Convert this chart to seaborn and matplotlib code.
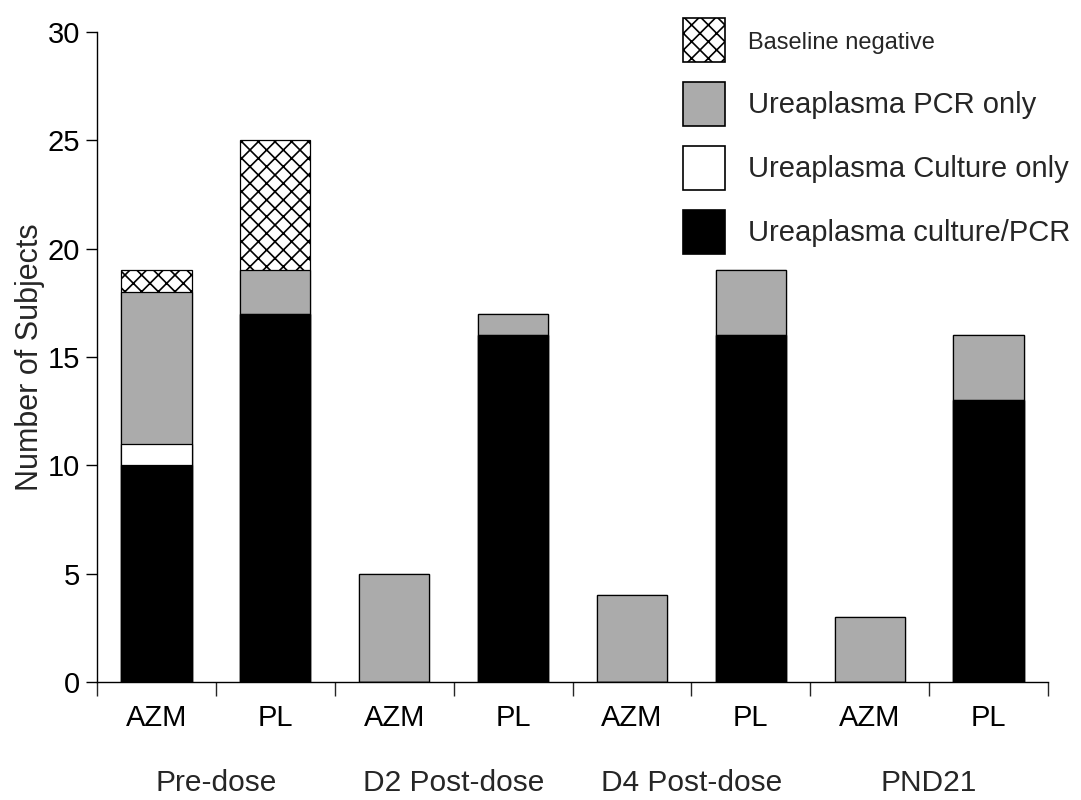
import matplotlib
matplotlib.use("Agg")
import matplotlib.pyplot as plt
from matplotlib.patches import Patch
from matplotlib.ticker import FixedLocator
import seaborn as sns
import pandas as pd
import numpy as np

groups = ["Pre-dose", "D2 Post-dose", "D4 Post-dose", "PND21"]
arms = ["AZM", "PL"]
culture_pcr = [10, 17, 0, 16, 0, 16, 0, 13]
culture_only = [1, 0, 0, 0, 0, 0, 0, 0]
pcr_only = [7, 2, 5, 1, 4, 3, 3, 3]
baseline_neg = [1, 6, 0, 0, 0, 0, 0, 0]
series_names = ["Baseline negative", "Ureaplasma PCR only",
                "Ureaplasma Culture only", "Ureaplasma culture/PCR"]

sns.set_style("ticks")
plt.rcParams["font.family"] = ["Liberation Sans", "DejaVu Sans"]
plt.rcParams["hatch.linewidth"] = 1.2

keys = [f"{g} {a}" for g in groups for a in arms]
df = pd.DataFrame({
    "key": keys,
    "culture_pcr": culture_pcr,
    "culture_only": culture_only,
    "pcr_only": pcr_only,
    "baseline_neg": baseline_neg,
})
df["c1"] = df["culture_pcr"]
df["c2"] = df["c1"] + df["culture_only"]
df["c3"] = df["c2"] + df["pcr_only"]
df["c4"] = df["c3"] + df["baseline_neg"]

fig = plt.figure(figsize=(10.81, 8.0), dpi=100)
ax = fig.add_axes([97/1081, 1-682/800, (1048-97)/1081, (682-32)/800])

layers = [("c4", "white", "xx"), ("c3", "#ababab", None),
          ("c2", "white", None), ("c1", "black", None)]
for col, fc, h in layers:
    sns.barplot(data=df, x="key", y=col, order=keys, ax=ax, color=fc,
                saturation=1, width=0.59, edgecolor="black", linewidth=0.9,
                hatch=h, errorbar=None)

ax.set_xlim(-0.5, len(keys) - 0.5)
ax.set_ylim(0, 30)
ax.set_yticks([0, 5, 10, 15, 20, 25, 30])
ax.tick_params(axis="y", labelsize=21, length=8, width=1, pad=4, colors="black")

n = len(keys)
ax.xaxis.set_major_locator(FixedLocator(np.arange(n + 1) - 0.5))
ax.set_xticklabels([""] * (n + 1))
ax.xaxis.set_minor_locator(FixedLocator(np.arange(n)))
ax.set_xticks(np.arange(n), [a for g in groups for a in arms], minor=True)
ax.tick_params(axis="x", which="major", length=10, width=1)
ax.tick_params(axis="x", which="minor", length=0, labelsize=21, pad=16,
               colors="black")

for i, g in enumerate(groups):
    ax.text(2 * i + 0.5, -0.156, g, transform=ax.get_xaxis_transform(),
            ha="center", va="center", fontsize=21.5)

ax.set_xlabel("")
ax.set_ylabel("Number of Subjects", fontsize=22, labelpad=2)
for s in ["top", "right"]:
    ax.spines[s].set_visible(False)
for s in ["left", "bottom"]:
    ax.spines[s].set_linewidth(1.0)
    ax.spines[s].set_color("black")

handles = [
    Patch(facecolor="white", edgecolor="black", hatch="xx", linewidth=1.2),
    Patch(facecolor="#ababab", edgecolor="black", linewidth=1.2),
    Patch(facecolor="white", edgecolor="black", linewidth=1.2),
    Patch(facecolor="black", edgecolor="black", linewidth=1.2),
]
leg = fig.legend(handles, series_names, loc="upper left",
                 bbox_to_anchor=(683/1081, 1-18/800), frameon=False,
                 fontsize=21, borderpad=0, borderaxespad=0,
                 handlelength=1.43, handleheight=1.95, handletextpad=0.8,
                 labelspacing=0.68)
leg.get_texts()[0].set_fontsize(17)

fig.savefig("out.png", dpi=100)
